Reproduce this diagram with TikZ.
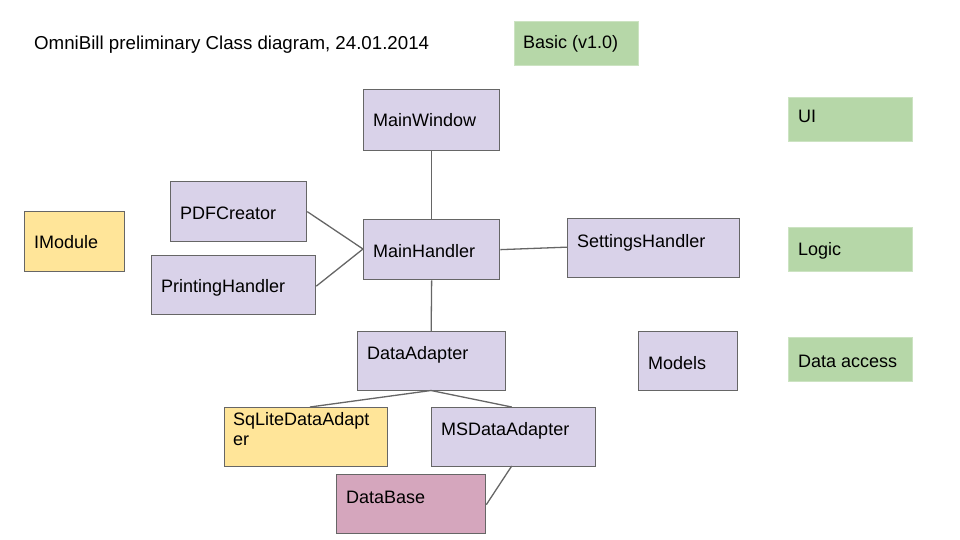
\documentclass[tikz,border=0pt]{standalone}
\usepackage{fontspec}
\setmainfont{Liberation Sans}
\definecolor{lineg}{RGB}{102,102,102}
\definecolor{purp}{RGB}{217,210,233}
\definecolor{yell}{RGB}{255,229,153}
\definecolor{pink}{RGB}{213,166,189}
\definecolor{grn}{RGB}{182,215,168}
\tikzset{
  box/.style={draw=lineg, line width=1.3pt, anchor=north west, inner sep=0pt, minimum width=#1},
  purpbox/.style={box=#1, fill=purp},
  yellbox/.style={box=#1, fill=yell},
  pinkbox/.style={box=#1, fill=pink},
  grnbox/.style={anchor=north west, inner sep=0pt, fill=grn, draw=grn!70!white, line width=0.6pt, minimum width=#1},
  txt/.style={anchor=base west, inner sep=0pt, font=\fontsize{18}{22}\selectfont},
  conn/.style={draw=lineg, line width=1.3pt}
}
\begin{document}
\begin{tikzpicture}[x=1pt,y=-1pt]
\useasboundingbox (0,0) rectangle (960,540);
% boxes
\node (mw) [purpbox=136pt, minimum height=61pt] at (363,89) {};
\node (pdf) [purpbox=136pt, minimum height=60pt] at (170,181) {};
\node (im) [yellbox=100pt, minimum height=60pt] at (24,211) {};
\node (mh) [purpbox=136pt, minimum height=60pt] at (363,219) {};
\node (sh) [purpbox=172pt, minimum height=59pt] at (567,218) {};
\node (ph) [purpbox=164pt, minimum height=59pt] at (151,255) {};
\node (da) [purpbox=148pt, minimum height=59pt] at (357,331) {};
\node (mo) [purpbox=99pt, minimum height=59pt] at (638,331) {};
\node (sq) [yellbox=163pt, minimum height=59pt] at (224,407) {};
\node (ms) [purpbox=164pt, minimum height=59pt] at (431,407) {};
\node (db) [pinkbox=149pt, minimum height=59pt] at (336,474) {};
\node (ba) [grnbox=124pt, minimum height=44pt] at (514,21) {};
\node (ui) [grnbox=124pt, minimum height=44pt] at (788,97) {};
\node (lo) [grnbox=124pt, minimum height=44pt] at (788,227) {};
\node (dac) [grnbox=124pt, minimum height=44pt] at (788,337) {};
% texts
\node (title) [txt, font=\fontsize{18.7}{22}\selectfont] at (34,50) {OmniBill preliminary Class diagram, 24.01.2014};
\node [txt] at (373,127) {MainWindow};
\node [txt] at (180,219) {PDFCreator};
\node [txt] at (34,248) {IModule};
\node [txt] at (373,257) {MainHandler};
\node [txt] at (577,247) {SettingsHandler};
\node [txt] at (161,292) {PrintingHandler};
\node [txt] at (367,359) {DataAdapter};
\node [txt] at (648,369) {Models};
\node [txt] at (233,425) {SqLiteDataAdapt};
\node [txt] at (233,445) {er};
\node [txt] at (441,435) {MSDataAdapter};
\node [txt] at (346,503) {DataBase};
\node [txt] at (523,49) {Basic (v1.0)};
\node [txt] at (798,123) {UI};
\node [txt] at (798,255) {Logic};
\node [txt] at (798,367) {Data access};
% connectors
\coordinate (mhw) at (363,249);
\coordinate (dab) at (431,390.5);
\draw[conn] (mw.south) -- (mh.north);
\draw[conn] (pdf.east) -- (mhw);
\draw[conn] ([yshift=-1pt]ph.east) -- (mhw);
\draw[conn] (mh.east) -- ([yshift=1pt]sh.west);
\draw[conn] (mh.south -| da.north) -- ([xshift=-0.5pt]da.north);
\draw[conn] (dab) -- (310,407);
\draw[conn] (dab) -- (511.7,407);
\draw[conn] (511.7,466) -- ([yshift=-0.5pt]db.east);
\end{tikzpicture}
\end{document}
